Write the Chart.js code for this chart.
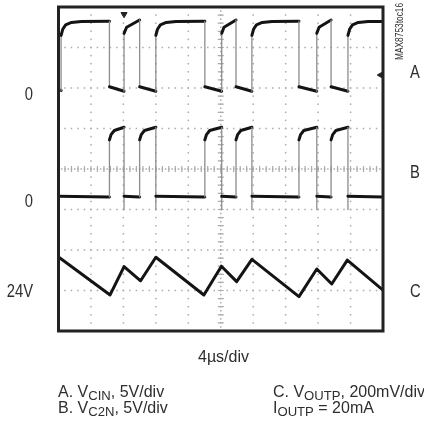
<!DOCTYPE html>
<html>
<head>
<meta charset="utf-8">
<script src="https://cdn.jsdelivr.net/npm/chart.js@4.4.0/dist/chart.umd.min.js"></script>
<style>
    body { margin: 0; background: #fff; }
    #scope { display: block; }
</style>
</head>
<body>
<canvas id="scope" width="424" height="425"></canvas>
<script>
// time in divisions (4us/div), level in divisions above the bottom graticule line
const traceA = [
    [0, 5.96], [0.08, 5.94], [0.08, 7.3], [0.13, 7.45], [0.22, 7.56], [0.4, 7.62], [0.7, 7.64], [1.57, 7.65],
    [1.57, 6.03], [2.02, 5.92], [2.02, 7.35], [2.1, 7.5], [2.5, 7.68],
    [2.5, 6.03], [3.0, 5.92], [3.0, 7.3], [3.05, 7.45], [3.14, 7.56], [3.32, 7.62], [3.62, 7.64], [4.51, 7.65],
    [4.51, 6.03], [5.03, 5.92], [5.03, 7.35], [5.1, 7.5], [5.47, 7.68],
    [5.47, 6.03], [5.96, 5.92], [5.96, 7.3], [6.01, 7.45], [6.1, 7.56], [6.28, 7.62], [6.58, 7.64], [7.41, 7.65],
    [7.41, 6.03], [7.96, 5.92], [7.96, 7.35], [8.03, 7.5], [8.4, 7.68],
    [8.4, 6.03], [8.92, 5.92], [8.92, 7.3], [8.97, 7.45], [9.06, 7.56], [9.24, 7.62], [9.54, 7.64], [10, 7.64]
];

const traceB = [
    [0, 3.33], [1.57, 3.31], [1.57, 4.72], [1.62, 4.85], [1.72, 4.95], [2.02, 5.03],
    [2.02, 3.0], [2.02, 3.33], [2.5, 3.31], [2.5, 4.72], [2.55, 4.85], [2.65, 4.95], [3.0, 5.03],
    [3.0, 3.0], [3.0, 3.33], [4.51, 3.31], [4.51, 4.72], [4.56, 4.85], [4.66, 4.95], [5.03, 5.03],
    [5.03, 3.0], [5.03, 3.33], [5.47, 3.31], [5.47, 4.72], [5.52, 4.85], [5.62, 4.95], [5.96, 5.03],
    [5.96, 3.0], [5.96, 3.33], [7.41, 3.31], [7.41, 4.72], [7.46, 4.85], [7.56, 4.95], [7.96, 5.03],
    [7.96, 3.0], [7.96, 3.33], [8.4, 3.31], [8.4, 4.72], [8.45, 4.85], [8.55, 4.95], [8.92, 5.03],
    [8.92, 3.0], [8.92, 3.33], [10, 3.31]
];

const traceC = [
    [0, 1.83], [1.59, 0.89], [2.02, 1.59], [2.53, 1.24], [3.0, 1.82], [4.48, 0.89],
    [5.02, 1.6], [5.49, 1.22], [5.96, 1.77], [7.41, 0.85], [7.96, 1.53], [8.42, 1.16],
    [8.9, 1.75], [10, 1.01]
];

// trigger position (top) and trigger level (right edge)
const markers = [[2.02, 7.82], [9.93, 6.32]];

const leftLabels = [["0", 100], ["0", 207], ["24V", 297]];
const rightLabels = [["A", 78], ["B", 178], ["C", 297]];

const FONT = '"Liberation Sans", Arial, sans-serif';
const INK = "#2e2e2e";

function pts(list) {
    return list.map(([x, y]) => ({ x, y }));
}

const vertical = (c) => c.p0.parsed.x === c.p1.parsed.x;

const traceStyle = {
    borderColor: "#141414",
    borderWidth: 3,
    pointRadius: 0,
    tension: 0,
    borderJoinStyle: "round",
    borderCapStyle: "round",
    segment: {
        borderColor: (c) => (vertical(c) ? "#8c8c8c" : undefined),
        borderWidth: (c) => (vertical(c) ? 1.3 : undefined),
    },
};

// draw text runs, second item of a run marks a subscript
function drawRuns(ctx, runs, x, y, size) {
    let cx = x;
    runs.forEach(([t, sub]) => {
        ctx.font = (sub ? size * 0.82 : size) + "px " + FONT;
        ctx.fillText(t, cx, sub ? y + 3 : y);
        cx += ctx.measureText(t).width;
    });
}

// narrow lettering: squeeze horizontally around the anchor
function drawNarrow(ctx, text, x, y, squeeze) {
    ctx.save();
    ctx.translate(x, y);
    ctx.scale(squeeze, 1);
    ctx.fillText(text, 0, 0);
    ctx.restore();
}

const graticule = {
    id: "graticule",
    beforeDatasetsDraw(chart) {
        const { ctx, scales: { x, y } } = chart;
        ctx.save();
        ctx.fillStyle = "#ababab";
        for (let i = 1; i < 10; i++) {
            const px = x.getPixelForValue(i);
            const step = i === 5 ? 0.1 : 0.2;
            for (let v = step; v < 8; v += step) {
                ctx.fillRect(px - 0.75, y.getPixelForValue(v) - 0.75, 1.5, 1.5);
            }
        }
        for (let j = 1; j < 8; j++) {
            const py = y.getPixelForValue(j);
            const step = j === 4 ? 0.1 : 0.2;
            for (let v = step; v < 10; v += step) {
                ctx.fillRect(x.getPixelForValue(v) - 0.75, py - 0.75, 1.5, 1.5);
            }
        }
        // minor ticks on the centre cross
        ctx.strokeStyle = "#ababab";
        ctx.lineWidth = 1.2;
        const cx = x.getPixelForValue(5);
        const cy = y.getPixelForValue(4);
        ctx.beginPath();
        for (let v = 0.2; v < 8; v += 0.2) {
            const py = y.getPixelForValue(v);
            ctx.moveTo(cx - 3, py);
            ctx.lineTo(cx + 3, py);
        }
        for (let v = 0.2; v < 10; v += 0.2) {
            const px = x.getPixelForValue(v);
            ctx.moveTo(px, cy - 3);
            ctx.lineTo(px, cy + 3);
        }
        ctx.stroke();
        ctx.restore();
    },
    afterDatasetsDraw(chart) {
        const { ctx, chartArea: a } = chart;
        ctx.save();
        ctx.strokeStyle = "#222";
        ctx.lineWidth = 3;
        ctx.strokeRect(a.left, a.top, a.right - a.left, a.bottom - a.top);
        ctx.restore();
    },
};

const captions = {
    id: "captions",
    afterDraw(chart) {
        const { ctx } = chart;
        ctx.save();
        ctx.fillStyle = INK;
        ctx.textBaseline = "alphabetic";
        ctx.font = "18px " + FONT;
        ctx.textAlign = "right";
        leftLabels.forEach(([t, by]) => drawNarrow(ctx, t, 33, by, 0.82));
        ctx.textAlign = "left";
        rightLabels.forEach(([t, by]) => drawNarrow(ctx, t, 410, by, 0.82));

        ctx.font = "16px " + FONT;
        drawNarrow(ctx, "4\u00b5s/div", 198, 362, 1);
        drawRuns(ctx, [["A. V"], ["CIN", 1], [", 5V/div"]], 58, 397, 16);
        drawRuns(ctx, [["B. V"], ["C2N", 1], [", 5V/div"]], 58, 413, 16);
        drawRuns(ctx, [["C. V"], ["OUTP", 1], [", 200mV/div"]], 273, 397, 16);
        drawRuns(ctx, [["I"], ["OUTP", 1], [" = 20mA"]], 273, 413, 16);

        ctx.translate(403, 60);
        ctx.rotate(-Math.PI / 2);
        ctx.font = "11px " + FONT;
        drawNarrow(ctx, "MAX8753toc16", 0, 0, 0.76);
        ctx.restore();
    },
};

new Chart(document.getElementById("scope"), {
    type: "line",
    data: {
        datasets: [
            { label: "A", data: pts(traceA), ...traceStyle },
            { label: "B", data: pts(traceB), ...traceStyle },
            { label: "C", data: pts(traceC), ...traceStyle },
            {
                label: "markers",
                type: "scatter",
                data: pts(markers),
                pointStyle: "triangle",
                rotation: [180, -90],
                pointRadius: 3.5,
                backgroundColor: "#222",
                borderColor: "#222",
                borderWidth: 1,
            },
        ],
    },
    options: {
        responsive: false,
        animation: false,
        layout: { padding: { left: 58.5, top: 7, right: 41, bottom: 94 } },
        scales: {
            x: { type: "linear", min: 0, max: 10, display: false },
            y: { type: "linear", min: 0, max: 8, display: false },
        },
        plugins: {
            legend: { display: false },
            tooltip: { enabled: false },
        },
    },
    plugins: [graticule, captions],
});
</script>
</body>
</html>
